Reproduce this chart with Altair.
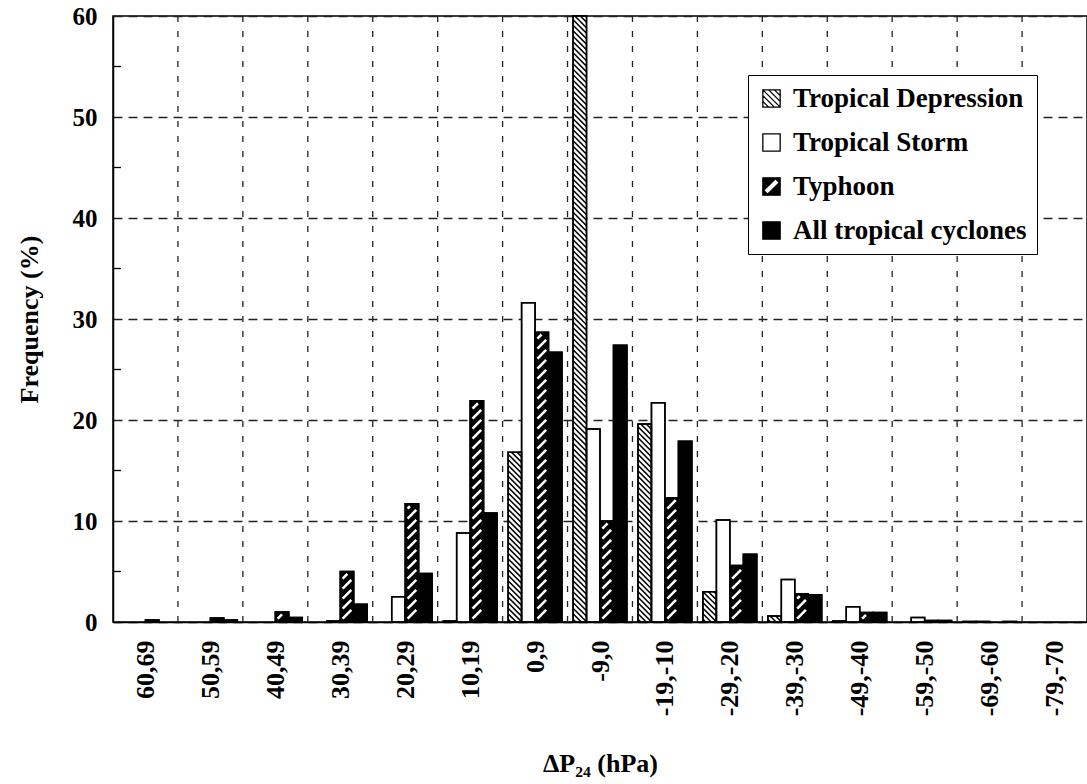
import json
import math

import altair as alt
import pandas as pd

# 24-h pressure change classes (hPa), from deepening to filling
categories = ["60,69", "50,59", "40,49", "30,39", "20,29", "10,19", "0,9", "-9,0",
              "-19,-10", "-29,-20", "-39,-30", "-49,-40", "-59,-50", "-69,-60", "-79,-70"]
series = ["Tropical Depression", "Tropical Storm", "Typhoon", "All tropical cyclones"]

# frequency (%) per class for each intensity group
depression = [0, 0, 0, 0, 0, 0.1, 16.8, 60.0, 19.6, 3.0, 0.6, 0.1, 0, 0.05, 0]
storm = [0, 0, 0, 0.1, 2.5, 8.8, 31.6, 19.1, 21.7, 10.1, 4.2, 1.5, 0.45, 0.05, 0]
typhoon = [0.2, 0.4, 1.0, 5.0, 11.7, 21.9, 28.7, 10.0, 12.3, 5.6, 2.8, 0.95, 0.15, 0, 0]
all_tc = [0, 0.2, 0.45, 1.75, 4.8, 10.8, 26.7, 27.4, 17.9, 6.7, 2.7, 0.95, 0.15, 0.05, 0]

y_ticks = [0, 10, 20, 30, 40, 50, 60]
y_minor = [5, 15, 25, 35, 45, 55]

FONT = "Liberation Serif"
W, H = 974, 606
Y_MAX = 60
N = len(categories)
KX = W / N          # px per class
KY = H / Y_MAX      # px per percent
GROUP_PAD = 0.085
BAR_W = (1 - 2 * GROUP_PAD) / len(series)

fills = ["white", "white", "black", "black"]

rows = []
for j, (name, vals) in enumerate(zip(series, [depression, storm, typhoon, all_tc])):
    for i, (cat, v) in enumerate(zip(categories, vals)):
        if v <= 0:
            continue
        x0 = i + GROUP_PAD + j * BAR_W
        rows.append(dict(category=cat, series=name, value=v, x0=x0, x1=x0 + BAR_W, zero=0.0))
bars = pd.DataFrame(rows)


def back_hatch(x0, value, period=5.5):
    """Thin '\\' lines filling one bar (computed in pixels, returned in data units)."""
    w, h = BAR_W * KX, value * KY
    segs = []
    c = period / 2
    while c < w + h:
        u1, u2 = max(0.0, c - h), min(w, c)
        if u2 > u1:
            segs.append(dict(x=x0 + u1 / KX, y=(c - u1) / KY, x2=x0 + u2 / KX, y2=(c - u2) / KY))
        c += period
    return segs


def slash_hatch(x0, value, period=10.0, slope=1.0, inset=2.4):
    """Short '/' slashes inside one bar, kept clear of the bar edges."""
    w, h = BAR_W * KX, value * KY
    segs = []
    k = -math.ceil(slope * w / period) - 1
    while True:
        c = k * period + 1.0
        if c > h:
            break
        u1 = max(inset, (inset - c) / slope)
        u2 = min(w - inset, (h - inset - c) / slope)
        if u2 - u1 > 1.5:
            segs.append(dict(x=x0 + u1 / KX, y=(c + slope * u1) / KY,
                             x2=x0 + u2 / KX, y2=(c + slope * u2) / KY))
        k += 1
    return segs


td_segs, ty_segs = [], []
for _, r in bars.iterrows():
    if r.series == series[0]:
        td_segs += back_hatch(r.x0, r.value)
    elif r.series == series[2]:
        ty_segs += slash_hatch(r.x0, r.value)
td_hatch = pd.DataFrame(td_segs)
ty_hatch = pd.DataFrame(ty_segs)

x_scale = alt.Scale(domain=[0, N], nice=False, zero=False)
y_scale = alt.Scale(domain=[0, Y_MAX], nice=False)
fill_scale = alt.Scale(domain=series, range=fills)

label_expr = json.dumps(categories) + "[floor(datum.value)]"

x_axis = alt.Axis(
    values=[i + 0.5 for i in range(N)], labelExpr=label_expr, labelAngle=270,
    labelAlign="right", labelBaseline="middle", labelPadding=18,
    labelFont=FONT, labelFontSize=26, labelFontWeight="bold", labelColor="black",
    ticks=False, grid=False, domainColor="black", domainWidth=1.5,
    title="ΔP₂₄ (hPa)", titleFont=FONT, titleFontSize=26, titleFontWeight="bold",
    titleColor="black", titlePadding=35,
)
y_axis = alt.Axis(
    values=y_ticks, labelFont=FONT, labelFontSize=25, labelFontWeight="bold",
    labelColor="black", labelPadding=16, ticks=False,
    grid=True, gridDash=[9, 6], gridColor="#222222", gridWidth=1.3,
    domainColor="black", domainWidth=1.5,
    title="Frequency (%)", titleFont=FONT, titleFontSize=26, titleFontWeight="bold",
    titleColor="black", titlePadding=30,
)

# legend symbols: hatched, open, slashed and solid squares
td_symbol = ("M-1,-1H1V1H-1Z M-1,-1L1,1 M-1,-0.33L0.33,1 M-1,0.33L-0.33,1 "
             "M-0.33,-1L1,0.33 M0.33,-1L1,-0.33")
ts_symbol = "M-1,-1H1V1H-1Z"
ty_symbol = "M-1,-1H1V1H-1Z M-0.45,0.9L0.9,-0.45L0.45,-0.9L-0.9,0.45Z"
all_symbol = "M-1,-1H1V1H-1Z"

legend = alt.Legend(
    orient="none", legendX=635, legendY=59, title=None,
    fillColor="white", strokeColor="black", padding=10,
    labelFont=FONT, labelFontSize=27, labelFontWeight="bold", labelColor="black",
    labelLimit=400, labelOffset=8, symbolSize=300, rowPadding=16,
    symbolStrokeWidth=1.3, symbolStrokeColor="black", symbolOpacity=1,
)

# carries the legend only; no points are drawn
legend_layer = alt.Chart(pd.DataFrame({"series": series})).transform_filter(
    "false"
).mark_point(filled=True, opacity=1, strokeWidth=1.3).encode(
    fill=alt.Fill("series:N", scale=fill_scale, legend=legend),
    stroke=alt.Stroke("series:N", scale=alt.Scale(domain=series, range=["black"] * 4),
                      legend=legend),
    shape=alt.Shape("series:N", scale=alt.Scale(
        domain=series, range=[td_symbol, ts_symbol, ty_symbol, all_symbol]), legend=legend),
)

# dashed separators between pressure classes
v_grid = alt.Chart(pd.DataFrame({"b": list(range(1, N))})).mark_rule(
    color="#222222", strokeWidth=1.3, strokeDash=[6, 9]
).encode(x=alt.X("b:Q", scale=x_scale, axis=x_axis))

# short inward ticks at the 5 % steps
minor = alt.Chart(pd.DataFrame({"m": y_minor})).mark_rule(
    color="black", strokeWidth=1.3
).encode(y=alt.Y("m:Q", scale=y_scale, axis=y_axis), x=alt.value(0), x2=alt.value(8))

base_bars = alt.Chart(bars).mark_rect(stroke="black", strokeWidth=1.5).encode(
    x=alt.X("x0:Q", scale=x_scale, axis=x_axis),
    x2="x1:Q",
    y=alt.Y("value:Q", scale=y_scale, axis=y_axis),
    y2="zero:Q",
    fill=alt.Fill("series:N", scale=fill_scale, legend=None),
)

td_lines = alt.Chart(td_hatch).mark_rule(color="black", strokeWidth=1.6).encode(
    x=alt.X("x:Q", scale=x_scale, axis=x_axis), x2="x2:Q",
    y=alt.Y("y:Q", scale=y_scale, axis=y_axis), y2="y2:Q",
)
ty_lines = alt.Chart(ty_hatch).mark_rule(color="white", strokeWidth=2.6).encode(
    x=alt.X("x:Q", scale=x_scale, axis=x_axis), x2="x2:Q",
    y=alt.Y("y:Q", scale=y_scale, axis=y_axis), y2="y2:Q",
)

outlines = alt.Chart(bars).mark_rect(
    stroke="black", strokeWidth=1.5, fillOpacity=0, fill="white"
).encode(
    x=alt.X("x0:Q", scale=x_scale, axis=x_axis), x2="x1:Q",
    y=alt.Y("value:Q", scale=y_scale, axis=y_axis), y2="zero:Q",
)

chart = alt.layer(
    legend_layer, v_grid, minor, base_bars, td_lines, ty_lines, outlines
).properties(
    width=W, height=H,
    autosize=alt.AutoSizeParams(type="none"),
    padding={"left": 113, "top": 16, "right": 0, "bottom": 162},
    background="white",
).configure_view(stroke="black", strokeWidth=1.5)

chart.save("out.html", embed_options={"renderer": "svg", "actions": False})
